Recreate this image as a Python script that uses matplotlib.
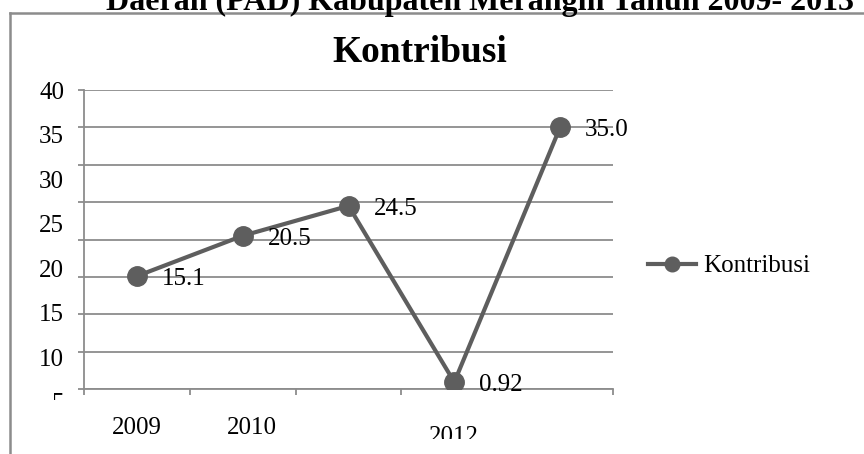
import matplotlib
matplotlib.use("Agg")
import matplotlib.pyplot as plt
from matplotlib.lines import Line2D
from matplotlib.transforms import Bbox, TransformedBbox, blended_transform_factory

plt.rcParams['font.family'] = ['Liberation Serif', 'DejaVu Serif']

# data
years = ["2009", "2010", "2011", "2012", "2013"]
kontribusi = [15.1, 20.5, 24.5, 0.92, 35.0]
point_labels = ["15.1", "20.5", "24.5", "0.92", "35.0"]
shown_years = ["2009", "2010", "2012"]          # the others are missing in the original
ytick_labels = ["40", "35", "30", "25", "20", "15", "10", "5"]
header = "Daerah (PAD) Kabupaten Merangin Tahun 2009- 2013"

W, H = 864, 454
LINE = '#5e5e5e'
GRID = '#8c8c8c'


def fx(px):
    return px / W


def fy(py):
    return 1 - py / H


fig = plt.figure(figsize=(W / 100, H / 100), dpi=100)
ax = fig.add_axes([fx(84), fy(389), (613 - 84) / W, (389 - 90) / H])

x = list(range(len(years)))
ax.plot(x, kontribusi, color=LINE, lw=3, marker='o', ms=14, label='Kontribusi', zorder=3)
for i, lab in enumerate(point_labels):
    ax.annotate(lab, (x[i], kontribusi[i]), xytext=(18, -2), textcoords='offset points',
                ha='left', va='center', fontsize=18, zorder=4)

ax.set_xlim(-0.5, len(years) - 0.5)
ax.set_ylim(0, 40)
ax.set_yticks(range(0, 45, 5))
ax.yaxis.grid(True, color=GRID, lw=1.3)
ax.set_axisbelow(True)
ax.set_yticklabels([])
# tick between 2012 and 2013 is missing in the original render
ax.set_xticks([-0.5, 0.5, 1.5, 2.5, len(years) - 0.5])
ax.set_xticklabels([])
ax.tick_params(length=4.5, width=1.3, color=GRID)
for s in ['top', 'right']:
    ax.spines[s].set_visible(False)
for s in ['left', 'bottom']:
    ax.spines[s].set_color(GRID)
    ax.spines[s].set_linewidth(1.3)

# y labels drift away from the gridlines in the original picture
ylab_trans = blended_transform_factory(fig.transFigure, ax.transData)
ylab_clip = TransformedBbox(Bbox.from_extents(0, fy(400), 1, 1), fig.transFigure)
for k, lab in enumerate(ytick_labels):
    t = fig.text(fx(64), 39.6 - k * 5.95, lab, transform=ylab_trans, ha='right',
                 va='center', fontsize=18)
    t.set_clip_box(ylab_clip)
    t.set_clip_on(True)

xlab_trans = blended_transform_factory(ax.transData, fig.transFigure)
xlab_clip = TransformedBbox(Bbox.from_extents(0, fy(439), 1, 1), fig.transFigure)
xlab_shift = {"2009": (0, 428), "2010": (9, 428), "2012": (0, 437)}
for lab in shown_years:
    dx, py = xlab_shift[lab]
    t = fig.text(years.index(lab) + dx / 105.8, fy(py), lab, transform=xlab_trans,
                 ha='center', va='center', fontsize=18)
    t.set_clip_box(xlab_clip)
    t.set_clip_on(True)

ax.legend(loc='center left', bbox_to_anchor=(fx(648), fy(266)), bbox_transform=fig.transFigure,
          frameon=False, fontsize=18, handlelength=1.9, handletextpad=0.3, markerscale=0.75,
          borderpad=0, borderaxespad=0)

fig.text(fx(420), fy(53), "Kontribusi", ha='center', va='center', fontsize=27,
         fontweight='bold')
# page heading above the chart, cut off by the crop in the original
fig.text(fx(480), fy(10), header, ha='center', va='baseline', fontsize=23,
         fontweight='bold')

# chart frame (cut off on the right and bottom)
fig.add_artist(Line2D([fx(10), fx(10)], [0, fy(13)], color=GRID, lw=1.8))
fig.add_artist(Line2D([fx(10), 1], [fy(13), fy(13)], color=GRID, lw=1.8))

fig.savefig('out.png', dpi=100)
